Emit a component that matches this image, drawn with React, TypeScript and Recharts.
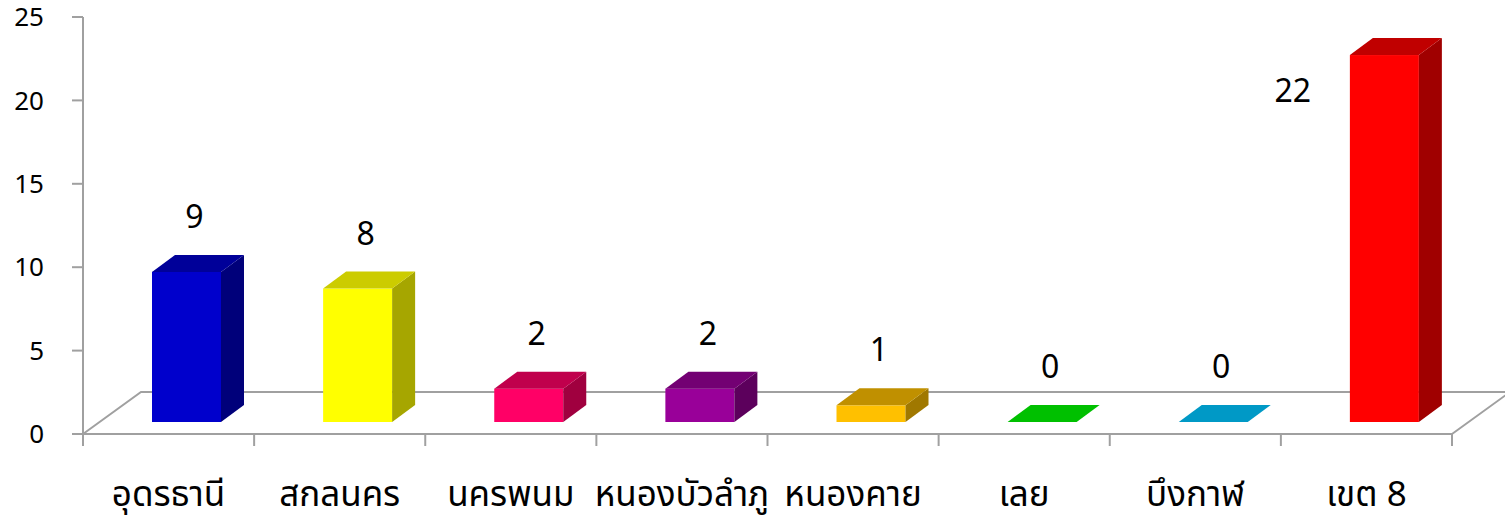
import React from "react";
import { BarChart, Bar, XAxis, YAxis, LabelList } from "recharts";

const categories = ["อุดรธานี", "สกลนคร", "นครพนม", "หนองบัวลำภู", "หนองคาย", "เลย", "บึงกาฬ", "เขต 8"];
const values = [9, 8, 2, 2, 1, 0, 0, 22];
const yTicks = [0, 5, 10, 15, 20, 25];
const frontColors = ["#0000cc", "#ffff00", "#ff0066", "#990099", "#ffc000", "#00c000", "#0099c6", "#ff0000"];
const topColors = ["#000099", "#cccc00", "#c0004c", "#730073", "#c09000", "#00c000", "#0099c6", "#c00000"];
const sideColors = ["#00007a", "#a6a600", "#a0003f", "#5c005c", "#a07800", "#009000", "#007799", "#a00000"];

const data = categories.map((name, i) => ({ name, value: values[i] }));

const W = 1505;
const H = 521;
const PLOT_LEFT = 83;
const PLOT_RIGHT = 1452;
const PLOT_TOP = 17;
const PLOT_BOTTOM = 434;
const BAND = (PLOT_RIGHT - PLOT_LEFT) / categories.length;
const FLOOR_DX = 58;
const FLOOR_DY = 42;
const DX = 23;
const DY = 17;
const LIFT = 12;
const SHIFT = 18;
const AXIS = "#a0a0a0";
const FONT = "Tahoma, 'Noto Sans Thai', 'DejaVu Sans', sans-serif";

function Bar3D(props: any) {
  const { x, y, width, height, index } = props;
  const left = x + SHIFT;
  const right = left + width;
  const bottom = y + height - LIFT;
  const top = y - LIFT;
  const h = bottom - top;
  return (
    <g>
      {h > 0 && <rect x={left} y={top} width={width} height={h} fill={frontColors[index]} />}
      {h > 0 && (
        <polygon
          points={`${right},${top} ${right + DX},${top - DY} ${right + DX},${bottom - DY} ${right},${bottom}`}
          fill={sideColors[index]}
        />
      )}
      <polygon
        points={`${left},${top} ${left + DX},${top - DY} ${right + DX},${top - DY} ${right},${top}`}
        fill={h > 0 ? topColors[index] : frontColors[index]}
      />
    </g>
  );
}

function ValueLabel(props: any) {
  const { x, y, width, value } = props;
  let lx = x + SHIFT + width / 2 + 8;
  let ly = y - LIFT - DY - 37;
  if (ly < 40) {
    lx = x + SHIFT - 57;
    ly = y - LIFT + 37;
  }
  return (
    <text x={lx} y={ly} textAnchor="middle" dominantBaseline="central" fontSize={32} fontFamily={FONT} fill="#000">
      {value}
    </text>
  );
}

function XTick(props: any) {
  const { x, payload, index } = props;
  const lines = [x - BAND / 2];
  if (index === categories.length - 1) lines.push(x + BAND / 2);
  return (
    <g>
      {lines.map((lx, i) => (
        <line key={i} x1={lx} x2={lx} y1={PLOT_BOTTOM} y2={PLOT_BOTTOM + 12} stroke={AXIS} strokeWidth={2} />
      ))}
      <text x={x} y={506} textAnchor="middle" fontSize={35} fontFamily={FONT} fill="#000">
        {payload.value}
      </text>
    </g>
  );
}

export default function App() {
  return (
    <div style={{ position: "absolute", left: 0, top: 0, width: W, height: H, background: "#fff" }}>
      <svg width={W} height={H} style={{ position: "absolute", left: 0, top: 0 }}>
        <polyline
          points={`${PLOT_LEFT},${PLOT_BOTTOM} ${PLOT_LEFT + FLOOR_DX},${PLOT_BOTTOM - FLOOR_DY} ${PLOT_RIGHT + FLOOR_DX},${PLOT_BOTTOM - FLOOR_DY} ${PLOT_RIGHT},${PLOT_BOTTOM}`}
          fill="none"
          stroke={AXIS}
          strokeWidth={2}
        />
      </svg>
      <div style={{ position: "absolute", left: 0, top: 0 }}>
        <BarChart
          width={W}
          height={H}
          data={data}
          margin={{ top: PLOT_TOP, right: W - PLOT_RIGHT, bottom: 0, left: 0 }}
          barSize={69}
        >
          <YAxis
            domain={[0, 25]}
            ticks={yTicks}
            width={PLOT_LEFT}
            tickSize={11}
            tickMargin={28}
            axisLine={{ stroke: AXIS, strokeWidth: 2 }}
            tickLine={{ stroke: AXIS, strokeWidth: 2 }}
            tick={{ fontSize: 26, fontFamily: FONT, fill: "#000" }}
            interval={0}
          />
          <XAxis
            dataKey="name"
            height={H - PLOT_BOTTOM}
            axisLine={{ stroke: AXIS, strokeWidth: 2 }}
            tickLine={false}
            tick={<XTick />}
            interval={0}
          />
          <Bar dataKey="value" isAnimationActive={false} shape={<Bar3D />}>
            <LabelList dataKey="value" content={<ValueLabel />} />
          </Bar>
        </BarChart>
      </div>
    </div>
  );
}
